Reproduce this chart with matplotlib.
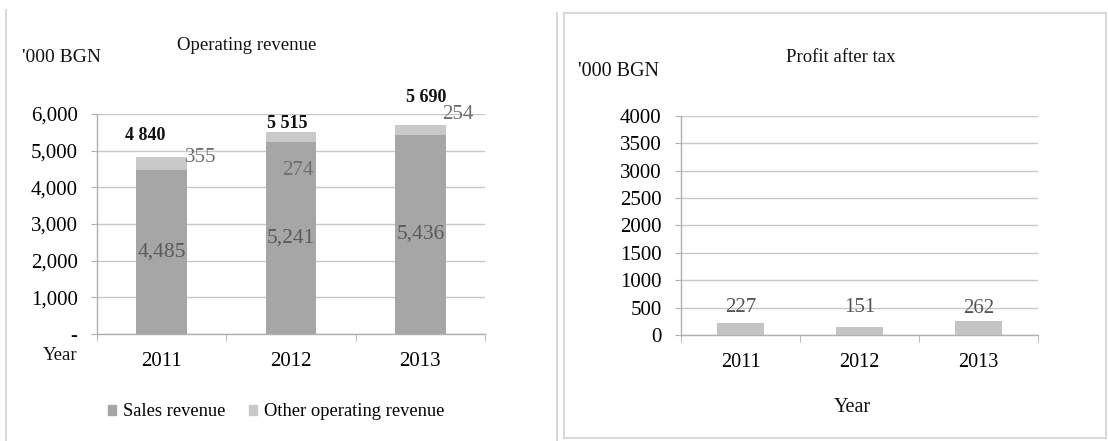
import matplotlib
matplotlib.use("Agg")
import matplotlib.pyplot as plt
from matplotlib.patches import Patch
from matplotlib.lines import Line2D
from matplotlib.ticker import FuncFormatter, FixedLocator

plt.rcParams['font.family'] = ['Liberation Serif', 'DejaVu Serif']

years = ["2011", "2012", "2013"]
sales_revenue = [4485, 5241, 5436]
other_revenue = [355, 274, 254]
profit_after_tax = [227, 151, 262]

rev_yticks = [0, 1000, 2000, 3000, 4000, 5000, 6000]
profit_yticks = [0, 500, 1000, 1500, 2000, 2500, 3000, 3500, 4000]

SALES_C = "#a6a6a6"
OTHER_C = "#c9c9c9"
PROFIT_C = "#c4c4c4"
GRID_C = "#c8c8c8"
SPINE_C = "#b0b0b0"

W, H = 1108, 441
fig = plt.figure(figsize=(W / 100, H / 100), dpi=100)


def px_box(x0, y0, x1, y1):
    return [x0 / W, 1 - y1 / H, (x1 - x0) / W, (y1 - y0) / H]


def style_axes(ax, yticks, ypad):
    x = range(len(years))
    ax.set_xlim(-0.5, len(years) - 0.5)
    ax.set_ylim(yticks[0], yticks[-1])
    ax.yaxis.set_major_locator(FixedLocator(yticks))
    ax.grid(axis="y", color=GRID_C, linewidth=1.0)
    ax.set_axisbelow(True)
    for s in ("top", "right"):
        ax.spines[s].set_visible(False)
    for s in ("left", "bottom"):
        ax.spines[s].set_color(SPINE_C)
        ax.spines[s].set_linewidth(1.0)
    ax.set_xticks(list(x))
    ax.set_xticklabels(years, fontsize=15)
    ax.set_xticks([i - 0.5 for i in range(len(years) + 1)], minor=True)
    ax.tick_params(axis="x", which="major", length=0, pad=13)
    ax.tick_params(axis="x", which="minor", length=5, color=SPINE_C, direction="out")
    ax.tick_params(axis="y", length=4, color=SPINE_C, labelsize=15, pad=ypad)


# ---- Operating revenue (stacked) ----
ax1 = fig.add_axes(px_box(97, 114, 485, 334))
style_axes(ax1, rev_yticks, 10)
ax1.yaxis.set_major_formatter(FuncFormatter(lambda v, p: "-" if v == 0 else f"{int(v):,}"))
xs = list(range(len(years)))
bw = 0.39
ax1.bar(xs, sales_revenue, width=bw, color=SALES_C, zorder=2)
ax1.bar(xs, other_revenue, width=bw, bottom=sales_revenue, color=OTHER_C, zorder=2)

for i, v in enumerate(sales_revenue):
    ax1.text(xs[i], v / 2, f"{v:,}", ha="center", va="center", fontsize=15.5,
             color="#5a5a5a", zorder=3)

# label offsets (points) for the other-revenue values
other_offsets = [(28, 4), (5, -24), (27, 11)]
for i, v in enumerate(other_revenue):
    ax1.annotate(str(v), (xs[i], sales_revenue[i] + v / 2), xytext=other_offsets[i],
                 textcoords="offset points", ha="center", va="center", fontsize=15,
                 color="#6e6e6e", zorder=3)

total_offsets = [(-12, 15), (-3, 6), (4, 20)]
for i in range(len(years)):
    tot = sales_revenue[i] + other_revenue[i]
    ax1.annotate(f"{tot:,}".replace(",", " "), (xs[i], tot), xytext=total_offsets[i],
                 textcoords="offset points", ha="center", va="center", fontsize=13,
                 fontweight="bold", color="#111111", zorder=3)

fig.text(61 / W, 1 - 57 / H, "'000 BGN", ha="center", va="center", fontsize=14, color="#111111")
fig.text(247 / W, 1 - 45 / H, "Operating revenue", ha="center", va="center", fontsize=13.5,
         color="#111111")
fig.text(60 / W, 1 - 356 / H, "Year", ha="center", va="center", fontsize=13.5, color="#111111")

fig.legend(handles=[Patch(color=SALES_C, label="Sales revenue"),
                    Patch(color=OTHER_C, label="Other operating revenue")],
           loc="center", bbox_to_anchor=(276 / W, 1 - 412 / H), ncol=2, frameon=False,
           fontsize=13.3, handlelength=0.45, handleheight=0.45, handletextpad=0.35,
           columnspacing=1.3)

# ---- Profit after tax ----
ax2 = fig.add_axes(px_box(681, 115.7, 1038, 335))
style_axes(ax2, profit_yticks, 10)
ax2.tick_params(axis="x", which="major", labelsize=14.5)
ax2.bar(xs, profit_after_tax, width=bw, color=PROFIT_C, zorder=2)
profit_offsets = [(0, 11), (0, 14), (0, 9)]
for i, v in enumerate(profit_after_tax):
    ax2.annotate(str(v), (xs[i], v), xytext=profit_offsets[i], textcoords="offset points",
                 ha="center", va="center", fontsize=15, color="#555555", zorder=3)

fig.text(619 / W, 1 - 72 / H, "'000 BGN", ha="center", va="center", fontsize=14.5, color="#111111")
fig.text(841 / W, 1 - 58 / H, "Profit after tax", ha="center", va="center", fontsize=13.5,
         color="#111111")
fig.text(852 / W, 1 - 407 / H, "Year", ha="center", va="center", fontsize=14.5, color="#111111")

# ---- panel frames ----
frame_c = "#d2d2d2"
def fline(xa, ya, xb, yb, lw=1.2):
    fig.add_artist(Line2D([xa / W, xb / W], [1 - ya / H, 1 - yb / H], color=frame_c, linewidth=lw))

fline(6, 10, 6, 441)
fline(557, 13, 557, 441)
fline(564, 13, 564, 438)
fline(564, 13, 1106, 13)
fline(1106, 13, 1106, 438)
fline(564, 438, 1106, 438)

fig.savefig("out.png", dpi=100, facecolor="white")
